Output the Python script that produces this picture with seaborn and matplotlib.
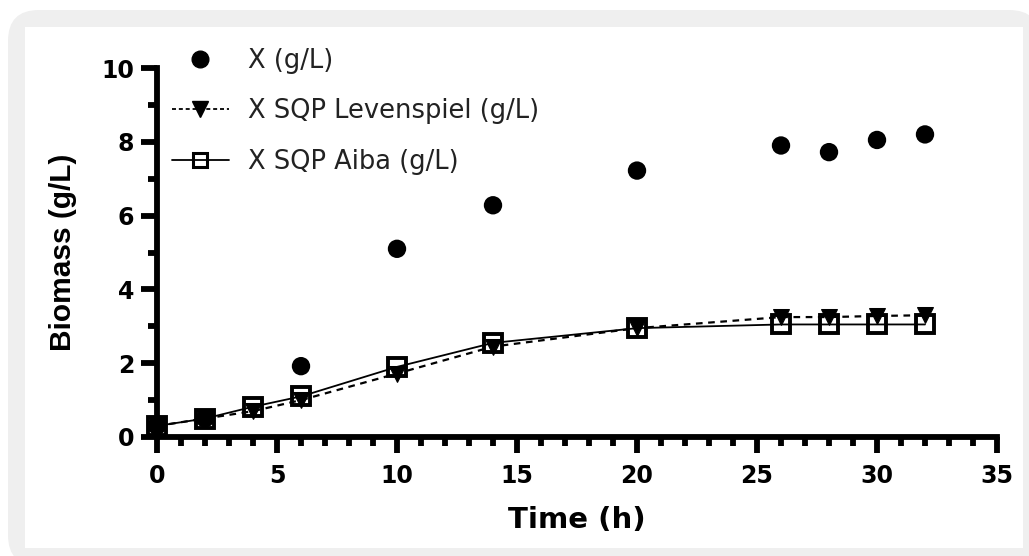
import matplotlib
matplotlib.use("Agg")
import matplotlib.pyplot as plt
import seaborn as sns
import pandas as pd
from matplotlib.patches import FancyBboxPatch, Rectangle
from matplotlib.lines import Line2D

# Data
t_exp = [0, 2, 6, 10, 14, 20, 26, 28, 30, 32]
x_exp = [0.3, 0.5, 1.92, 5.1, 6.28, 7.22, 7.9, 7.72, 8.05, 8.2]
t_model = [0, 2, 4, 6, 10, 14, 20, 26, 28, 30, 32]
x_lev = [0.3, 0.5, 0.7, 1.0, 1.72, 2.45, 2.95, 3.25, 3.25, 3.28, 3.3]
x_aiba = [0.3, 0.5, 0.82, 1.1, 1.9, 2.55, 2.95, 3.05, 3.05, 3.05, 3.05]
labels = ["X (g/L)", "X SQP Levenspiel (g/L)", "X SQP Aiba (g/L)"]

sns.set_style("white")
plt.rcParams["font.family"] = ["DejaVu Sans"]
plt.rcParams["text.color"] = "black"
plt.rcParams["xtick.color"] = "black"
plt.rcParams["ytick.color"] = "black"
plt.rcParams["axes.labelcolor"] = "black"

W, H = 1029, 556
fig = plt.figure(figsize=(W / 100, H / 100), dpi=100)
fig.patch.set_facecolor("white")
# grey rounded frame and white inner panel
frame = FancyBboxPatch((8 / W, 1 - 566 / H), 1032 / W, 556 / H,
                       boxstyle="round,pad=0,rounding_size=0.03",
                       transform=fig.transFigure, facecolor="#efefef",
                       edgecolor="none", zorder=-10, mutation_aspect=W / H)
fig.patches.append(frame)
inner = Rectangle((25 / W, 1 - 548 / H), (1023 - 25) / W, (548 - 27) / H,
                  transform=fig.transFigure, facecolor="white",
                  edgecolor="none", zorder=-9)
fig.patches.append(inner)

ax = fig.add_axes([157 / W, 1 - 437 / H, (997 - 157) / W, (437 - 68) / H])
ax.set_facecolor("none")

df_lev = pd.DataFrame({"t": t_model, "x": x_lev})
df_aiba = pd.DataFrame({"t": t_model, "x": x_aiba})
df_exp = pd.DataFrame({"t": t_exp, "x": x_exp})

sns.lineplot(data=df_lev, x="t", y="x", ax=ax, color="black", lw=1.6,
             linestyle=(0, (3, 2.5)), marker="v", markersize=12,
             markeredgecolor="black", markerfacecolor="black", clip_on=False, zorder=3)
sns.lineplot(data=df_aiba, x="t", y="x", ax=ax, color="black", lw=1.3,
             marker="s", markersize=12.5, markerfacecolor="none",
             markeredgecolor="black", markeredgewidth=2.8, clip_on=False, zorder=4)
sns.scatterplot(data=df_exp, x="t", y="x", ax=ax, color="black", s=175,
                edgecolor="none", clip_on=False, zorder=5)

ax.set_xlim(0, 35)
ax.set_ylim(0, 10)
ax.set_xticks(range(0, 36, 5))
ax.set_xticks(range(0, 36, 1), minor=True)
ax.set_yticks(range(0, 11, 2))
ax.set_yticks(range(0, 11, 1), minor=True)
for s in ["top", "right"]:
    ax.spines[s].set_visible(False)
for s in ["left", "bottom"]:
    ax.spines[s].set_linewidth(4.2)
    ax.spines[s].set_color("black")
    ax.spines[s].set_capstyle("projecting")
ax.tick_params(which="major", direction="out", length=11.5, width=4.2,
               labelsize=17, pad=5, bottom=True, left=True)
ax.tick_params(axis="x", which="major", pad=8)
ax.tick_params(which="minor", direction="out", length=6.5, width=4.2,
               bottom=True, left=True)
for lab in ax.get_xticklabels() + ax.get_yticklabels():
    lab.set_fontweight("bold")

ax.set_xlabel("Time (h)", fontsize=21, fontweight="bold")
ax.set_ylabel("Biomass (g/L)", fontsize=21.5, fontweight="bold",
              family=["Liberation Sans", "DejaVu Sans"])
ax.xaxis.set_label_coords(0.5, (437 - 520) / 369)
ax.xaxis.label.set_va("center")
ax.yaxis.set_label_coords((63 - 157) / 840, 0.5)
ax.yaxis.label.set_va("center")
ax.yaxis.label.set_ha("center")

handles = [
    Line2D([], [], color="black", marker="o", markersize=12, linestyle="none"),
    Line2D([], [], color="black", marker="v", markersize=11, linestyle=(0, (2.2, 1.6)), lw=1.3),
    Line2D([], [], color="black", marker="s", markersize=10.5, markerfacecolor="none",
           markeredgewidth=2.2, lw=1.3),
]
leg = ax.legend(handles, labels, loc="upper left",
                bbox_to_anchor=((172 - 157) / 840, (437 - 48) / 369),
                frameon=False, fontsize=18.5, handlelength=2.2, handletextpad=0.75,
                labelspacing=0.95, borderaxespad=0, borderpad=0,
                labelcolor="#222222")

fig.savefig("out.png", dpi=100, facecolor=fig.get_facecolor())
